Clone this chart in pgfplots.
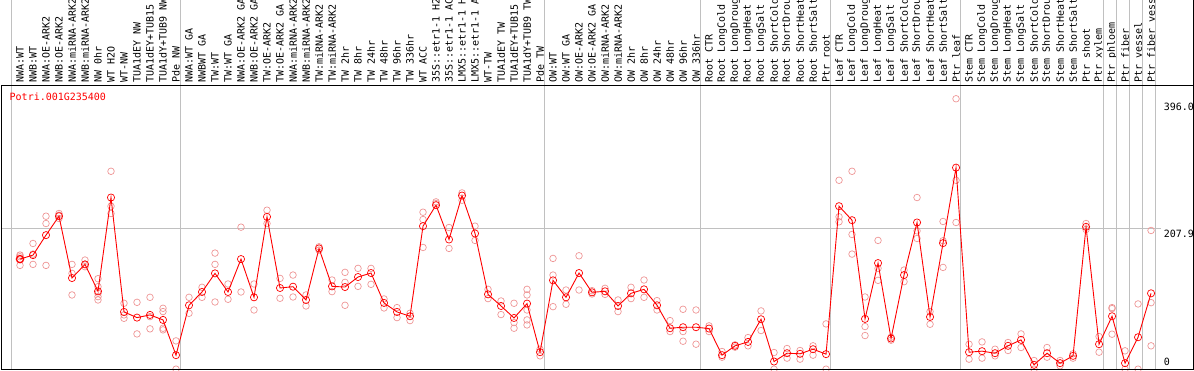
\documentclass[border=0pt]{standalone}
\usepackage{fontspec}
\usepackage{pgfplots}
\usepackage{pgfplotstable}
\pgfplotsset{compat=1.18}
\newfontfamily\mono{DejaVu Sans Mono}
\definecolor{rep}{RGB}{238,150,150}
\definecolor{gridg}{RGB}{192,192,192}
\definecolor{meanred}{RGB}{255,0,0}

\pgfdeclareplotmark{gear}{%
  \pgfpathcircle{\pgfpointorigin}{\pgfplotmarksize}%
  \pgfusepathqstroke
  \pgfsetlinewidth{0.7pt}%
  \pgfpathmoveto{\pgfqpoint{0pt}{\pgfplotmarksize}}\pgfpathlineto{\pgfqpoint{0pt}{\pgfplotmarksize+1.2pt}}%
  \pgfpathmoveto{\pgfqpoint{0pt}{-\pgfplotmarksize}}\pgfpathlineto{\pgfqpoint{0pt}{-\pgfplotmarksize-1.2pt}}%
  \pgfpathmoveto{\pgfqpoint{\pgfplotmarksize}{0pt}}\pgfpathlineto{\pgfqpoint{\pgfplotmarksize+1.2pt}{0pt}}%
  \pgfpathmoveto{\pgfqpoint{-\pgfplotmarksize}{0pt}}\pgfpathlineto{\pgfqpoint{-\pgfplotmarksize-1.2pt}{0pt}}%
  \pgfusepathqstroke}

\pgfplotstableread{
x y
0 162.9
1 168.8
2 198.3
3 226.3
4 134.9
5 155.1
6 115.3
7 253.9
8 84.8
9 76.4
10 80.4
11 73.0
12 20.9
13 94.6
14 114.3
15 141.8
16 114.3
17 162.9
18 106.4
19 225.4
20 120.2
21 122.1
22 102.5
23 178.7
24 122.6
25 121.6
26 136.4
27 142.3
28 98.1
29 84.8
30 78.4
31 211.6
32 242.6
33 191.9
34 256.8
35 200.8
36 110.8
37 93.6
38 75.9
39 97.1
40 25.3
41 131.5
42 106.4
43 142.3
44 113.8
45 115.3
46 93.6
47 112.3
48 118.2
49 94.6
50 60.7
51 62.2
52 62.2
53 60.2
54 20.9
55 34.7
56 40.5
57 74.0
58 11.5
59 23.8
60 22.9
61 29.7
62 22.4
63 241.1
64 220.4
65 74.5
66 157.0
67 45.5
68 139.3
69 217.0
70 77.4
71 186.5
72 298.1
73 25.3
74 26.8
75 23.8
76 34.7
77 43.5
78 6.6
79 23.8
80 9.1
81 19.9
82 210.6
83 37.1
84 78.4
85 9.1
86 47.4
87 112.3
}\means

\pgfplotstableread{
x y
0 168.8
0 166.4
0 153.6
1 186.0
1 170.3
1 155.1
2 226.3
2 215.5
2 153.6
3 230.3
3 227.8
3 222.9
4 155.1
4 141.8
4 109.9
5 161.5
5 155.1
5 151.6
6 133.9
6 122.1
6 112.3
6 107.4
6 102.5
7 292.7
7 241.1
7 230.3
8 97.6
8 80.4
8 75.4
9 99.0
9 52.3
10 106.4
10 77.9
10 59.8
11 90.2
11 85.3
11 60.7
11 58.3
12 42.0
12 0.2
13 106.4
13 82.8
14 121.2
14 106.4
15 171.8
15 155.1
15 99.5
16 126.1
16 103.5
17 210.1
17 114.3
18 126.1
18 87.7
19 235.2
19 215.5
20 134.4
20 105.0
21 139.3
21 106.9
22 109.9
22 93.6
23 181.1
23 176.2
24 132.0
24 114.8
25 143.3
25 128.5
25 94.6
26 149.2
26 122.6
27 149.2
27 125.6
28 104.0
28 90.7
29 91.2
29 76.4
30 82.8
30 72.0
31 232.2
31 221.4
31 180.1
32 247.5
32 245.0
33 209.6
33 178.7
34 260.7
34 249.9
35 211.6
35 190.5
36 118.2
36 104.5
37 101.0
37 80.9
38 97.6
38 69.1
38 60.7
39 118.2
39 109.9
39 87.7
39 73.0
39 65.6
40 29.7
40 19.9
41 163.9
41 139.3
41 92.6
42 117.2
42 96.1
43 167.8
43 117.2
44 116.2
44 111.3
45 119.7
45 110.8
46 102.5
46 85.3
47 121.2
47 104.5
48 132.0
48 106.4
49 101.5
49 87.7
50 72.0
50 55.8
51 88.7
51 55.8
51 41.5
52 87.7
52 37.1
53 64.2
53 55.8
54 26.3
54 17.9
55 36.1
55 32.7
56 46.9
56 34.7
57 86.3
57 57.3
58 24.8
58 0.2
59 30.7
59 16.5
60 27.8
60 15.0
61 34.7
61 20.9
62 67.1
62 0.2
63 279.4
63 225.4
63 218.0
64 292.7
64 199.3
64 170.3
65 106.9
65 63.2
65 49.9
66 190.5
66 149.2
66 131.5
67 47.4
67 43.0
68 146.7
68 129.5
69 253.9
69 204.7
69 193.4
70 85.3
70 66.6
71 218.5
71 190.0
71 150.6
72 399.9
72 279.4
72 217.0
73 37.1
73 15.0
74 40.5
74 16.5
75 29.7
75 19.9
76 39.6
76 27.8
77 52.3
77 32.2
78 13.0
78 0.2
79 32.2
79 17.9
80 13.0
80 5.2
81 22.9
81 16.5
82 215.5
82 206.7
83 48.4
83 25.3
84 91.2
84 89.7
84 51.9
85 27.3
85 0.2
86 96.6
86 0.2
87 205.2
87 98.5
87 34.7
}\reps

\begin{document}
\begin{tikzpicture}
\useasboundingbox (0,0) rectangle (1194pt,370pt);
\clip (0,0) rectangle (1194pt,370pt);
\begin{axis}[
  at={(1.5pt,0.5pt)}, anchor=south west,
  scale only axis, width=1192pt, height=284pt,
  xmin=-1.423, xmax=90.27, ymin=-0.3, ymax=419.5,
  clip mode=individual,
  axis line style={black, line width=1pt},
  major tick length=0pt,
  tick label style={font=\mono\fontsize{10}{10}\selectfont},
  xtick={0,...,87},
  xticklabel pos=upper,
  xticklabel style={rotate=90, anchor=west, inner sep=0pt},
  xticklabel shift=2.5pt,
  xticklabels={NWA:WT,NWB:WT,NWA:OE-ARK2,NWB:OE-ARK2,NWA:miRNA-ARK2,NWB:miRNA-ARK2,NW 0hr,WT H2O,WT-NW,TUA1dEY NW,TUA1dEY+TUB15 NW,TUA1dY+TUB9 NW,Pde NW,
    NWA:WT GA,NWBWT GA,TW:WT,TW:WT GA,NWA:OE-ARK2 GA,NWB:OE-ARK2 GA,TW:OE-ARK2,TW:OE-ARK2 GA,NWA:miRNA-ARK2,NWB:miRNA-ARK2,TW:miRNA-ARK2,TW:miRNA-ARK2,TW 2hr,TW 8hr,TW 24hr,TW 48hr,TW 96hr,TW 336hr,WT ACC,35S::etr1-1 H2O,35S::etr1-1 ACC,LMX5::etr1-1 H2O,LMX5::etr1-1 ACC,WT-TW,TUA1dEY TW,TUA1dEY+TUB15 TW,TUA1dY+TUB9 TW,Pde TW,
    OW:WT,OW:WT GA,OW:OE-ARK2,OW:OE-ARK2 GA,OW:miRNA-ARK2,OW:miRNA-ARK2,OW 2hr,OW 8hr,OW 24hr,OW 48hr,OW 96hr,OW 336hr,
    Root CTR,Root LongCold,Root LongDrought,Root LongHeat,Root LongSalt,Root ShortCold,Root ShortDrought,Root ShortHeat,Root ShortSalt,Ptr root,
    Leaf CTR,Leaf LongCold,Leaf LongDrought,Leaf LongHeat,Leaf LongSalt,Leaf ShortCold,Leaf ShortDrought,Leaf ShortHeat,Leaf ShortSalt,Ptr leaf,
    Stem CTR,Stem LongCold,Stem LongDrought,Stem LongHeat,Stem LongSalt,Stem ShortCold,Stem ShortDrought,Stem ShortHeat,Stem ShortSalt,Ptr shoot,Ptr xylem,
    Ptr phloem,Ptr fiber,Ptr vessel,Ptr fiber vessel},
  ytick={207.9,396},
  yticklabels={207.9,396.0},
  yticklabel pos=right,
  yticklabel style={anchor=north west, inner sep=0pt, xshift=-30pt, yshift=-1pt},
  extra y ticks={0},
  extra y tick labels={0},
  extra y tick style={yticklabel style={anchor=south west, yshift=4.5pt}},
]
% group separators
\foreach \gx in {-0.654,12.346,40.346,52.346,62.346,72.346,83.346,84.346,85.346,86.346,87.346}{
  \edef\tmp{\noexpand\draw[gridg, line width=1pt] (axis cs:\gx,-0.3) -- (axis cs:\gx,600);}
  \tmp
}
\draw[gridg, line width=1pt] (axis cs:-1.423,207.9) -- (axis cs:87.73,207.9);
\addplot[only marks, mark=gear, mark size=3.3pt, rep, line width=0.9pt] table[x=x,y=y] {\reps};
\addplot[meanred, line width=0.9pt, mark=gear, mark size=3.6pt, mark options={line width=1.3pt}] table[x=x,y=y] {\means};
\end{axis}
\draw[black, line width=1pt] (1.5pt,0.5pt) rectangle (1193.5pt,284.5pt);
\draw[black, line width=1pt] (1193.5pt,284.5pt) -- (1193.5pt,370pt);
\node[anchor=north west, inner sep=0pt, text=red, font=\mono\fontsize{10}{10}\selectfont] at (9.5pt,277pt) {Potri.001G235400};
\end{tikzpicture}
\end{document}
